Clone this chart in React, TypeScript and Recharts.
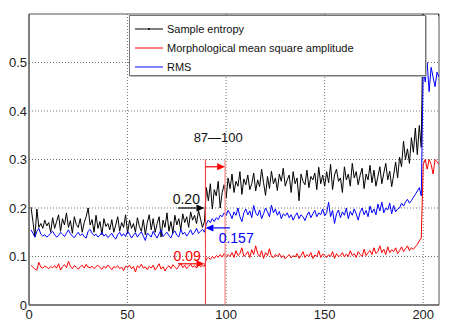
import {
  LineChart,
  Line,
  XAxis,
  YAxis,
  CartesianGrid,
  Legend,
  ReferenceLine,
  ReferenceDot,
  ReferenceArea,
} from "recharts";

// x runs 1..208, one reading per sample
const sampleEntropy = [
  0.202, 0.172, 0.140, 0.198, 0.160, 0.168, 0.158, 0.175, 0.163, 0.170,
  0.150, 0.180, 0.158, 0.172, 0.186, 0.152, 0.178, 0.165, 0.190, 0.160,
  0.174, 0.148, 0.182, 0.166, 0.160, 0.178, 0.150, 0.170, 0.182, 0.200,
  0.165, 0.176, 0.150, 0.185, 0.158, 0.172, 0.145, 0.178, 0.162, 0.168,
  0.155, 0.176, 0.150, 0.165, 0.182, 0.152, 0.170, 0.160, 0.186, 0.148,
  0.175, 0.158, 0.168, 0.150, 0.180, 0.162, 0.152, 0.176, 0.145, 0.170,
  0.186, 0.155, 0.178, 0.150, 0.168, 0.182, 0.140, 0.175, 0.160, 0.190,
  0.152, 0.172, 0.148, 0.185, 0.165, 0.178, 0.155, 0.188, 0.170, 0.182,
  0.160, 0.192, 0.175, 0.185, 0.168, 0.195, 0.178, 0.160, 0.172,
  0.242, 0.215, 0.250, 0.198, 0.238, 0.225, 0.255, 0.200, 0.232, 0.248, 0.220,
  0.262, 0.240, 0.270, 0.232, 0.255, 0.245, 0.275, 0.228, 0.260, 0.248,
  0.268, 0.238, 0.250, 0.272, 0.235, 0.258, 0.244, 0.280, 0.252, 0.226,
  0.265, 0.240, 0.276, 0.250, 0.262, 0.236, 0.270, 0.255, 0.282, 0.245,
  0.258, 0.268, 0.232, 0.275, 0.250, 0.262, 0.215, 0.270, 0.255, 0.248,
  0.278, 0.242, 0.265, 0.258, 0.272, 0.238, 0.284, 0.250, 0.268, 0.245,
  0.275, 0.252, 0.290, 0.238, 0.268, 0.280, 0.255, 0.262, 0.232, 0.285,
  0.258, 0.270, 0.245, 0.292, 0.262, 0.275, 0.248, 0.268, 0.282, 0.240,
  0.270, 0.258, 0.288, 0.252, 0.278, 0.245, 0.265, 0.285, 0.250, 0.272,
  0.292, 0.258, 0.276, 0.244, 0.268, 0.295, 0.262,
  0.305, 0.285, 0.338, 0.300, 0.322, 0.292, 0.345, 0.315, 0.365, 0.310, 0.370, 0.325,
  0.62, 0.64, 0.61, 0.63, 0.62, 0.64, 0.61, 0.63, 0.595,
];

const morphAmplitude = [
  0.082, 0.078, 0.074, 0.072, 0.088, 0.078, 0.076, 0.080, 0.078, 0.075,
  0.079, 0.077, 0.081, 0.076, 0.085, 0.072, 0.079, 0.083, 0.077, 0.090,
  0.080, 0.075, 0.081, 0.078, 0.074, 0.079, 0.082, 0.076, 0.084, 0.078,
  0.077, 0.080, 0.075, 0.079, 0.082, 0.077, 0.074, 0.080, 0.076, 0.082,
  0.078, 0.073, 0.079, 0.077, 0.081, 0.075, 0.078, 0.071, 0.080, 0.077,
  0.082, 0.075, 0.079, 0.068, 0.081, 0.077, 0.084, 0.076, 0.079, 0.073,
  0.080, 0.076, 0.082, 0.072, 0.078, 0.085, 0.074, 0.079, 0.070, 0.077,
  0.081, 0.075, 0.083, 0.078, 0.074, 0.080, 0.086, 0.077, 0.082, 0.075,
  0.079, 0.084, 0.078, 0.081, 0.076, 0.083, 0.079, 0.081, 0.080,
  0.095, 0.098, 0.094, 0.100, 0.096, 0.102, 0.098, 0.104, 0.099, 0.106, 0.100,
  0.104, 0.100, 0.108, 0.098, 0.112, 0.102, 0.106, 0.118, 0.100, 0.104,
  0.110, 0.098, 0.114, 0.104, 0.122, 0.106, 0.100, 0.112, 0.096, 0.108,
  0.102, 0.116, 0.100, 0.098, 0.104, 0.100, 0.106, 0.098, 0.102, 0.095,
  0.100, 0.104, 0.097, 0.102, 0.099, 0.106, 0.096, 0.102, 0.110, 0.098,
  0.104, 0.100, 0.108, 0.096, 0.103, 0.100, 0.112, 0.098, 0.105, 0.102,
  0.098, 0.104, 0.100, 0.110, 0.096, 0.106, 0.100, 0.102, 0.108, 0.099,
  0.105, 0.100, 0.112, 0.102, 0.106, 0.098, 0.110, 0.104, 0.100, 0.115,
  0.102, 0.108, 0.112, 0.104, 0.118, 0.106, 0.110, 0.122, 0.108, 0.115,
  0.104, 0.120, 0.108, 0.114, 0.110, 0.118, 0.106,
  0.112, 0.120, 0.110, 0.116, 0.122, 0.112, 0.118, 0.115, 0.120, 0.125, 0.132, 0.138,
  0.29, 0.30, 0.28, 0.30, 0.29, 0.27, 0.30, 0.295, 0.29,
];

const rms = [
  0.155, 0.148, 0.140, 0.152, 0.158, 0.146, 0.142, 0.145, 0.140, 0.143,
  0.148, 0.152, 0.145, 0.140, 0.143, 0.150, 0.146, 0.141, 0.148, 0.155,
  0.147, 0.142, 0.139, 0.145, 0.150, 0.143, 0.147, 0.141, 0.138, 0.152,
  0.156, 0.148, 0.143, 0.146, 0.140, 0.144, 0.150, 0.142, 0.146, 0.139,
  0.143, 0.148, 0.140, 0.136, 0.145, 0.150, 0.142, 0.147, 0.141, 0.152,
  0.146, 0.138, 0.144, 0.149, 0.140, 0.146, 0.151, 0.142, 0.133, 0.148,
  0.145, 0.140, 0.152, 0.144, 0.138, 0.147, 0.155, 0.141, 0.146, 0.150,
  0.143, 0.138, 0.149, 0.153, 0.144, 0.140, 0.156, 0.146, 0.150, 0.142,
  0.148, 0.155, 0.145, 0.150, 0.158, 0.148, 0.152, 0.156, 0.150,
  0.168, 0.175, 0.170, 0.178, 0.172, 0.180, 0.176, 0.185, 0.182, 0.190, 0.185,
  0.195, 0.188, 0.178, 0.192, 0.185, 0.200, 0.182, 0.172, 0.190, 0.198,
  0.186, 0.194, 0.180, 0.205, 0.190, 0.184, 0.196, 0.178, 0.188, 0.200,
  0.192, 0.182, 0.206, 0.190, 0.198, 0.185, 0.193, 0.178, 0.188, 0.184,
  0.190, 0.180, 0.186, 0.175, 0.184, 0.190, 0.178, 0.186, 0.182, 0.174,
  0.185, 0.192, 0.180, 0.188, 0.195, 0.182, 0.190, 0.186, 0.198, 0.184,
  0.190, 0.212, 0.182, 0.195, 0.168, 0.188, 0.196, 0.180, 0.192, 0.185,
  0.200, 0.178, 0.193, 0.185, 0.198, 0.188, 0.175, 0.192, 0.200, 0.186,
  0.195, 0.182, 0.204, 0.190, 0.198, 0.186, 0.208, 0.194, 0.212, 0.190,
  0.200, 0.196, 0.210, 0.188, 0.205, 0.192, 0.198,
  0.200, 0.210, 0.204, 0.212, 0.218, 0.210, 0.215, 0.222, 0.228, 0.235, 0.242, 0.225,
  0.49, 0.46, 0.50, 0.44, 0.49, 0.47, 0.45, 0.48, 0.47,
];

const xTicks = [0, 50, 100, 150, 200];
const yTicks = [0, 0.1, 0.2, 0.3, 0.4, 0.5];

const seriesInfo = [
  { key: "entropy", name: "Sample entropy", color: "#000000" },
  { key: "morph", name: "Morphological mean square amplitude", color: "#ff0000" },
  { key: "rms", name: "RMS", color: "#0000ff" },
];

const chartData = sampleEntropy.map((v, i) => ({
  x: i + 1,
  entropy: v,
  morph: morphAmplitude[i],
  rms: rms[i],
}));

const FONT = '"Liberation Sans", Arial, sans-serif';
const TICK_STYLE = { fontSize: 13, fill: "#222", fontFamily: FONT };

// line with a small triangular head at (x2, y2)
const arrow = (color: string) => (props: any) => {
  const { x1, y1, x2, y2 } = props;
  const dir = x2 > x1 ? 1 : -1;
  const len = 8;
  const half = 3.5;
  return (
    <g>
      <line x1={x1} y1={y1} x2={x2 - dir * len} y2={y2} stroke={color} strokeWidth={1.2} />
      <polygon
        points={`${x2},${y2} ${x2 - dir * len},${y2 - half} ${x2 - dir * len},${y2 + half}`}
        fill={color}
      />
    </g>
  );
};

const LegendBox = () => (
  <div
    style={{
      background: "#fff",
      border: "1px solid #777",
      boxShadow: "1px 1px 0 #bbb",
      fontFamily: FONT,
      fontSize: 11,
      color: "#111",
      padding: "3px 0 2px 5px",
      boxSizing: "border-box",
      height: 61,
    }}
  >
    {seriesInfo.map((s) => (
      <div key={s.key} style={{ display: "flex", alignItems: "center", height: 19 }}>
        <svg width={28} height={6} style={{ marginRight: 4 }}>
          <line x1={0} y1={3} x2={28} y2={3} stroke={s.color} strokeWidth={1} />
          {s.key === "entropy" && <circle cx={14} cy={3} r={1} fill="#000" />}
        </svg>
        <span>{s.name}</span>
      </div>
    ))}
  </div>
);

export default function App() {
  return (
    <div style={{ position: "absolute", left: 0, top: 0, width: 464, height: 328, background: "#fff" }}>
      <LineChart
        width={464}
        height={328}
        data={chartData}
        margin={{ top: 14, right: 25, bottom: 0, left: 0 }}
        style={{ fontFamily: FONT }}
      >
        <CartesianGrid
          stroke="#777"
          strokeDasharray="1 2"
          horizontalValues={yTicks.slice(1)}
          verticalValues={xTicks.slice(1)}
        />
        <XAxis
          dataKey="x"
          type="number"
          domain={[0, 208]}
          ticks={xTicks}
          tick={TICK_STYLE}
          tickSize={3}
          tickMargin={2}
          tickLine={false}
          height={23}
          axisLine={{ stroke: "#555" }}
          allowDataOverflow
        />
        <YAxis
          type="number"
          domain={[0, 0.6]}
          ticks={yTicks}
          tick={TICK_STYLE}
          tickFormatter={(v) => String(Number(v.toFixed(1)))}
          tickSize={2}
          tickMargin={0}
          tickLine={false}
          width={29}
          axisLine={{ stroke: "#555" }}
          allowDataOverflow
        />
        <ReferenceArea x1={0} x2={208} y1={0} y2={0.6} fill="none" stroke="#555" strokeWidth={1} />

        {seriesInfo.map((s) => (
          <Line
            key={s.key}
            type="linear"
            dataKey={s.key}
            name={s.name}
            stroke={s.color}
            strokeWidth={1}
            dot={false}
            isAnimationActive={false}
          />
        ))}

        <ReferenceLine
          segment={[{ x: 89.5, y: 0 }, { x: 89.5, y: 0.3 }]}
          stroke="#ff3030"
          strokeWidth={1}
        />
        <ReferenceLine
          segment={[{ x: 99.5, y: 0 }, { x: 99.5, y: 0.3 }]}
          stroke="#ff9a9a"
          strokeWidth={1.5}
        />
        <ReferenceLine
          segment={[{ x: 89.5, y: 0.285 }, { x: 99.5, y: 0.285 }]}
          shape={arrow("#ff0000")}
        />
        <ReferenceLine
          segment={[{ x: 75.6, y: 0.2 }, { x: 89, y: 0.2 }]}
          shape={arrow("#000000")}
        />
        <ReferenceLine
          segment={[{ x: 102, y: 0.159 }, { x: 89.5, y: 0.159 }]}
          shape={arrow("#0000ff")}
        />
        <ReferenceLine
          segment={[{ x: 75.6, y: 0.085 }, { x: 89, y: 0.085 }]}
          shape={arrow("#ff0000")}
        />

        <ReferenceDot
          x={96}
          y={0.345}
          r={0}
          fill="none"
          stroke="none"
          label={{ value: "87—100", position: "center", fontSize: 13, fill: "#111", fontFamily: FONT }}
        />
        <ReferenceDot
          x={79.8}
          y={0.218}
          r={0}
          fill="none"
          stroke="none"
          label={{ value: "0.20", position: "center", fontSize: 14, fill: "#111", fontFamily: FONT }}
        />
        <ReferenceDot
          x={105.1}
          y={0.138}
          r={0}
          fill="none"
          stroke="none"
          label={{ value: "0.157", position: "center", fontSize: 14, fill: "#0000ff", fontFamily: FONT }}
        />
        <ReferenceDot
          x={80.2}
          y={0.1}
          r={0}
          fill="none"
          stroke="none"
          label={{ value: "0.09", position: "center", fontSize: 14, fill: "#ff0000", fontFamily: FONT }}
        />

        <Legend
          layout="vertical"
          align="center"
          verticalAlign="middle"
          content={() => <LegendBox />}
          wrapperStyle={{ left: 129, top: 15, width: 297, height: 62 }}
        />
      </LineChart>
    </div>
  );
}
